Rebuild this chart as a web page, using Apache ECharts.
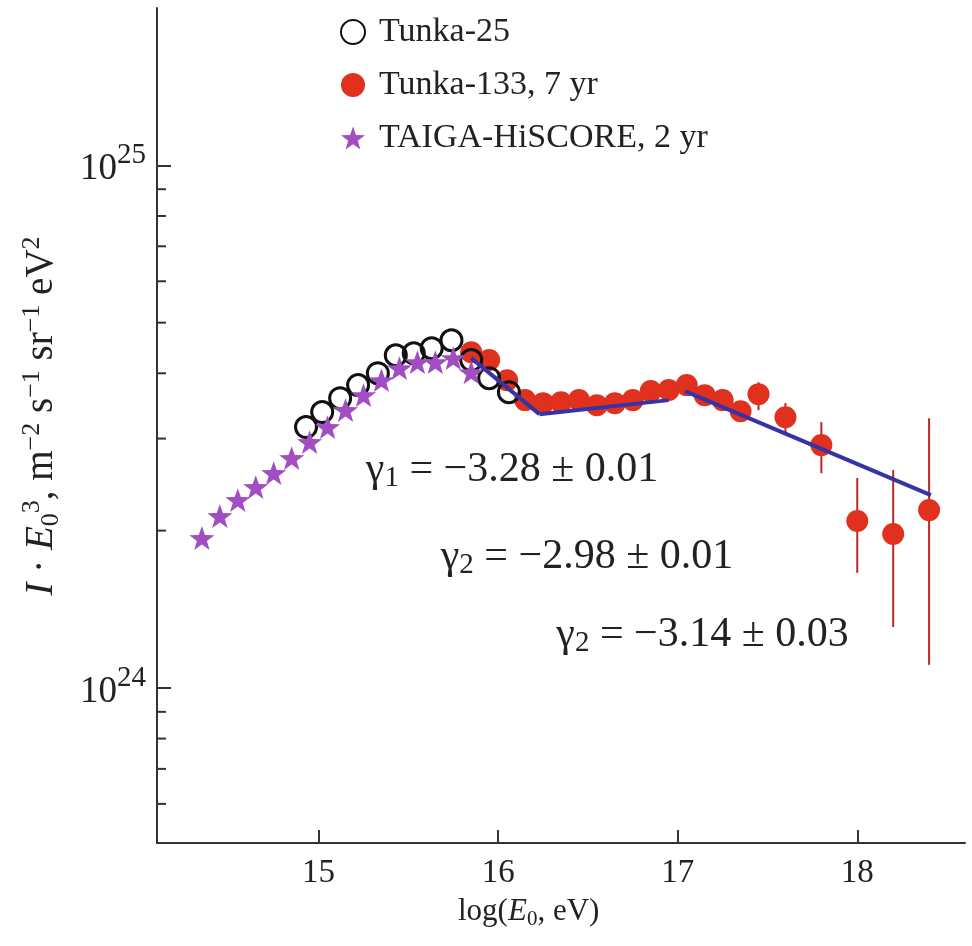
<!DOCTYPE html>
<html>
<head>
<meta charset="utf-8">
<script src="https://cdn.jsdelivr.net/npm/echarts@6/dist/echarts.min.js"></script>
<style>
html,body{margin:0;padding:0;background:#fff;}
#chart{width:972px;height:946px;}
</style>
</head>
<body>
<div id="chart"></div>
<script>
// ---- Data ----
const taigaX = [14.35,14.45,14.55,14.65,14.75,14.85,14.95,15.05,15.15,15.25,15.35,15.45,15.55,15.65,15.75,15.85];
const taigaY = [1.936e24,2.133e24,2.288e24,2.423e24,2.577e24,2.753e24,2.954e24,3.156e24,3.401e24,3.633e24,3.880e24,4.091e24,4.201e24,4.201e24,4.276e24,4.018e24];

const tunka25X = [14.93,15.02,15.12,15.22,15.33,15.43,15.53,15.63,15.74,15.85,15.95,16.06];
const tunka25Y = [3.156e24,3.372e24,3.585e24,3.797e24,4.002e24,4.331e24,4.369e24,4.467e24,4.627e24,4.24e24,3.914e24,3.68e24];

const tunka133X = [15.85,15.95,16.05,16.15,16.25,16.35,16.45,16.55,16.65,16.75,16.85,16.95,17.05,17.15,17.25,17.35,17.45,17.6,17.8,18.0,18.2,18.4];
const tunka133Y = [4.389e24,4.240e24,3.880e24,3.554e24,3.507e24,3.522e24,3.554e24,3.476e24,3.507e24,3.554e24,3.698e24,3.715e24,3.797e24,3.633e24,3.554e24,3.384e24,3.649e24,3.297e24,2.915e24,2.086e24,1.970e24,2.189e24];

const errX  = [17.45,17.6,17.8,18.0,18.2,18.4];
const errLo = [3.40e24,3.087e24,2.576e24,1.66e24,1.308e24,1.107e24];
const errHi = [3.846e24,3.508e24,3.226e24,2.521e24,2.611e24,3.281e24];

const fit1X = [15.85,16.23], fit1Y = [4.276e24,3.341e24];
const fit2X = [16.23,16.95], fit2Y = [3.341e24,3.554e24];
const fit3X = [17.04,18.41], fit3Y = [3.698e24,2.339e24];

const xTicks = [15,16,17,18];
const yMajor = [1e24,1e25];
const yMinor = [6e23,7e23,8e23,9e23,2e24,3e24,4e24,5e24,6e24,7e24,8e24,9e24];

const annX = [15.263,15.68,16.324];
const annY = [2.611e24,1.78e24,1.263e24];
const annSub = ['1','2','2'];
const annText = [' = \u22123.28 \u00b1 0.01',' = \u22122.98 \u00b1 0.01',' = \u22123.14 \u00b1 0.03'];

const names = ['Tunka-25','Tunka-133, 7 yr','TAIGA-HiSCORE, 2 yr'];

// ---- Chart ----
const X_MIN = 14.1, X_MAX = 18.6, Y_MIN = 5.05e23, Y_MAX = 2e25;
const FONT = '"Liberation Serif", "DejaVu Serif", serif';
const TXT = '#222';
const RED = '#e0301e', PURPLE = '#a24ec2', BLUE = '#3434a6', ERR = '#b52a24';
const STAR = 'path://M50,0 L61.76,33.82 L97.55,34.55 L69.02,56.18 L79.39,90.45 L50,70 L20.61,90.45 L30.98,56.18 L2.45,34.55 L38.24,33.82 Z';

const zip = (a,b) => a.map((v,i)=>[v,b[i]]);

const chart = echarts.init(document.getElementById('chart'), null, {renderer:'canvas'});

const option = {
  animation:false,
  backgroundColor:'#fff',
  grid:{left:157, top:8, right:7, bottom:103, containLabel:false},
  legend:{
    orient:'vertical', left:335, top:10, padding:5,
    itemWidth:24, itemHeight:24, itemGap:19,
    data:[names[0],names[1],names[2]],
    textStyle:{fontFamily:FONT, fontSize:34, color:TXT, lineHeight:34, padding:[0,0,0,9]}
  },
  xAxis:{
    type:'value', min:X_MIN, max:X_MAX,
    axisLine:{show:true, lineStyle:{color:'#333', width:2}},
    axisTick:{show:true, inside:true, length:13, customValues:xTicks, lineStyle:{color:'#333', width:2}},
    axisLabel:{customValues:xTicks, fontFamily:FONT, fontSize:33, color:TXT, margin:14,
      formatter:v => (xTicks.indexOf(v) >= 0 ? String(v) : '')},
    splitLine:{show:false}
  },
  yAxis:{
    type:'log', logBase:10, min:Y_MIN, max:Y_MAX,
    axisLine:{show:true, lineStyle:{color:'#333', width:2}},
    axisTick:{show:true, inside:true, length:14, customValues:yMajor, lineStyle:{color:'#333', width:2}},
    axisLabel:{customValues:yMajor, margin:11, fontFamily:FONT, color:TXT,
      formatter:v => {
        const l = Math.log10(v);
        if (Math.abs(l - Math.round(l)) > 1e-6) return '';
        return '{b|10}{s|' + Math.round(l) + '}';
      },
      rich:{
        b:{fontFamily:FONT, fontSize:37, color:TXT, padding:[8,0,0,0]},
        s:{fontFamily:FONT, fontSize:29, color:TXT, padding:[0,0,20,0]}
      }
    },
    splitLine:{show:false}
  },
  series:[
    {
      type:'custom', name:'minorTicks', silent:true, z:1,
      data: yMinor.map(v=>[X_MIN, v]),
      encode:{x:0, y:1},
      renderItem:(params, api) => {
        const p = api.coord([api.value(0), api.value(1)]);
        return {type:'line', shape:{x1:p[0], y1:p[1], x2:p[0]+9, y2:p[1]}, style:{stroke:'#333', lineWidth:2}};
      }
    },
    {
      type:'custom', name:'errbars', silent:true, z:2,
      data: errX.map((x,i)=>[x, errLo[i], errHi[i]]),
      encode:{x:0, y:[1,2]},
      renderItem:(params, api) => {
        const a = api.coord([api.value(0), api.value(1)]);
        const b = api.coord([api.value(0), api.value(2)]);
        return {type:'line', shape:{x1:a[0], y1:a[1], x2:b[0], y2:b[1]}, style:{stroke:ERR, lineWidth:2}};
      }
    },
    {
      type:'scatter', name:names[1], z:3,
      data: zip(tunka133X, tunka133Y),
      symbol:'circle', symbolSize:22,
      itemStyle:{color:RED, opacity:1}
    },
    {
      type:'scatter', name:names[0], z:4,
      data: zip(tunka25X, tunka25Y),
      symbol:'circle', symbolSize:21,
      itemStyle:{color:'rgba(255,255,255,0)', borderColor:'#111', borderWidth:3, opacity:1}
    },
    {
      type:'scatter', name:names[2], z:5,
      data: zip(taigaX, taigaY),
      symbol:STAR, symbolSize:25, symbolKeepAspect:true,
      itemStyle:{color:PURPLE, opacity:1}
    },
    {type:'line', name:'fit1', z:6, data:zip(fit1X,fit1Y), symbol:'none', lineStyle:{color:BLUE, width:4}},
    {type:'line', name:'fit2', z:6, data:zip(fit2X,fit2Y), symbol:'none', lineStyle:{color:BLUE, width:4}},
    {type:'line', name:'fit3', z:6, data:zip(fit3X,fit3Y), symbol:'none', lineStyle:{color:BLUE, width:4}}
  ]
};
chart.setOption(option);

// annotations & axis titles placed through the chart's coordinate system
const gEls = [];
annX.forEach((x,i) => {
  const p = chart.convertToPixel({gridIndex:0}, [x, annY[i]]);
  gEls.push({
    type:'text', x:p[0], y:p[1],
    style:{
      text:'{g|\u03b3}{sub|' + annSub[i] + '}{t|' + annText[i] + '}',
      align:'left', verticalAlign:'middle',
      rich:{
        g:{fontFamily:FONT, fontSize:42, fill:TXT},
        sub:{fontFamily:FONT, fontSize:29, fill:TXT, padding:[16,0,0,0], verticalAlign:'bottom'},
        t:{fontFamily:FONT, fontSize:42, fill:TXT}
      }
    }
  });
});
const xc = chart.convertToPixel({gridIndex:0}, [16.17, Y_MIN]);
gEls.push({
  type:'text', x:xc[0], y:912,
  style:{
    text:'{n|log(}{i|E}{sub|0}{n|, eV)}',
    align:'center', verticalAlign:'middle',
    rich:{
      n:{fontFamily:FONT, fontSize:31, fill:TXT},
      i:{fontFamily:FONT, fontSize:31, fontStyle:'italic', fill:TXT},
      sub:{fontFamily:FONT, fontSize:21, fill:TXT, padding:[14,0,0,0]}
    }
  }
});
gEls.push({
  type:'text', x:42, y:416, rotation:Math.PI/2,
  style:{
    text:'{i|I}{n| \u00b7 }{i|E}{sub|0}{sup|3}{n|, m}{sup|\u22122}{n| s}{sup|\u22121}{n| sr}{sup|\u22121}{n| eV}{sup|2}',
    align:'center', verticalAlign:'middle',
    rich:{
      n:{fontFamily:FONT, fontSize:39, fill:TXT},
      i:{fontFamily:FONT, fontSize:39, fontStyle:'italic', fill:TXT},
      sub:{fontFamily:FONT, fontSize:26, fill:TXT, padding:[18,0,0,0]},
      sup:{fontFamily:FONT, fontSize:26, fill:TXT, padding:[0,0,20,0]}
    }
  }
});
chart.setOption({graphic:{elements:gEls}});
</script>
</body>
</html>
